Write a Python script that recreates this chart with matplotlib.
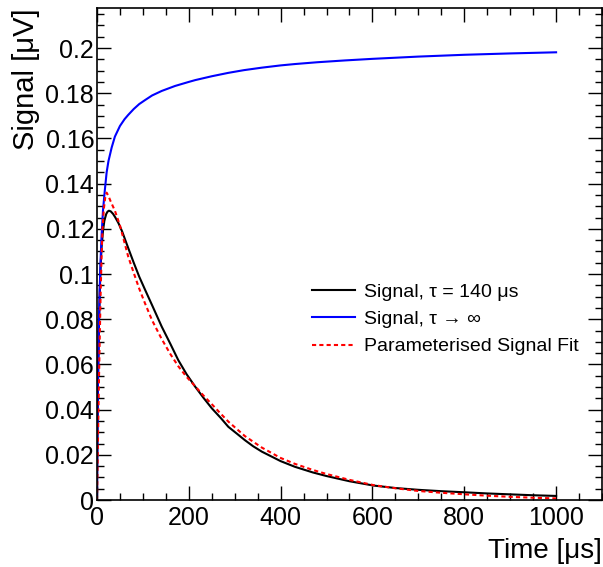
import matplotlib
matplotlib.use("Agg")
import matplotlib.pyplot as plt
from matplotlib.ticker import MultipleLocator, FuncFormatter

plt.rcParams['font.family'] = ['Liberation Sans', 'DejaVu Sans']

# values
t_black = [0, 1, 2, 4, 6, 8, 10, 13, 16, 20, 23, 26, 30, 35, 40, 47, 55, 62, 68, 80, 92,
           105, 120, 141, 160, 177, 195, 214, 232, 250, 270, 286, 305, 322, 340, 359,
           400, 431, 470, 500, 550, 602, 650, 700, 750, 802, 850, 900, 950, 1000]
v_black = [0.0, 0.03, 0.05, 0.075, 0.092, 0.104, 0.112, 0.119, 0.1235, 0.1265, 0.1276,
           0.128, 0.1277, 0.1266, 0.1250, 0.1224, 0.1187, 0.1148, 0.1115, 0.1050,
           0.0988, 0.0929, 0.0862, 0.0767, 0.0690, 0.0619, 0.0557, 0.0501, 0.0452,
           0.0406, 0.0362, 0.0324, 0.0293, 0.0265, 0.0238, 0.0214, 0.0172, 0.0147,
           0.0122, 0.0106, 0.0083, 0.0064, 0.0053, 0.0045, 0.0039, 0.0034, 0.0029,
           0.0025, 0.0021, 0.0018]

t_blue = [0, 1, 2, 4, 6, 8, 10, 13, 17, 21, 25, 32, 39, 50, 60, 68, 80, 92, 105, 120,
          141, 170, 200, 214, 250, 286, 320, 359, 400, 431, 480, 540, 600, 700, 800,
          900, 1000]
v_blue = [0.0, 0.03, 0.05, 0.076, 0.094, 0.107, 0.117, 0.128, 0.137, 0.145, 0.150,
          0.156, 0.1608, 0.1655, 0.1685, 0.1704, 0.1730, 0.1752, 0.1770, 0.1790,
          0.1810, 0.1832, 0.1850, 0.1858, 0.1875, 0.1890, 0.1902, 0.1913, 0.1923,
          0.1929, 0.1937, 0.1945, 0.1952, 0.1962, 0.1970, 0.1976, 0.1981]

t_fit = [0, 2, 4, 6, 8, 10, 12, 15, 18, 21, 25, 30, 39, 50, 68, 80, 92, 105, 120, 141,
         160, 177, 195, 214, 232, 250, 268, 286, 322, 359, 400, 431, 470, 500, 550,
         602, 650, 700, 750, 802, 850, 900, 950, 1000]
v_fit = [0.0, 0.025, 0.05, 0.072, 0.092, 0.108, 0.120, 0.129, 0.134, 0.136, 0.1345,
         0.132, 0.128, 0.1215, 0.1077, 0.1005, 0.0935, 0.0868, 0.0795, 0.0712, 0.0645,
         0.0592, 0.0545, 0.0503, 0.0462, 0.0424, 0.0385, 0.0347, 0.0283, 0.0232,
         0.0186, 0.0160, 0.0133, 0.0115, 0.0089, 0.0066, 0.0052, 0.0040, 0.0032,
         0.0025, 0.0019, 0.0014, 0.0010, 0.0007]

fig = plt.figure(figsize=(6.03, 5.67), dpi=100)
ax = fig.add_axes([97 / 603, 1 - 500 / 567, 505 / 603, 492 / 567])

ax.plot(t_black, v_black, color='black', lw=1.5, label=u'Signal, \u03c4 = 140 \u03bcs')
ax.plot(t_blue, v_blue, color='#0000ff', lw=1.5, label=u'Signal, \u03c4 \u2192 \u221e')
ax.plot(t_fit, v_fit, color='#ff0000', lw=1.5, ls=(0, (2, 1.5)), label='Parameterised Signal Fit')

ax.set_xlim(0, 1100)
ax.set_ylim(0, 0.2177)

ax.xaxis.set_major_locator(MultipleLocator(200))
ax.xaxis.set_minor_locator(MultipleLocator(50))
ax.yaxis.set_major_locator(MultipleLocator(0.02))
ax.yaxis.set_minor_locator(MultipleLocator(0.005))
ax.yaxis.set_major_formatter(FuncFormatter(lambda v, p: '%g' % round(v, 4)))

ax.tick_params(which='both', direction='in', top=True, right=True, labelsize=18, width=1)
ax.tick_params(which='major', length=10)
ax.tick_params(which='minor', length=5)
ax.tick_params(axis='x', pad=4)
ax.tick_params(axis='y', pad=2)
for s in ax.spines.values():
    s.set_linewidth(1.2)

ax.set_xlabel(u'Time [\u03bcs]', fontsize=20, loc='right', labelpad=6)
ax.set_ylabel(u'Signal [\u03bcV]', fontsize=21, loc='top')
ax.yaxis.set_label_coords(-0.113, 1.0)

ax.legend(loc='upper left', bbox_to_anchor=(0.4257, 0.441), frameon=False, fontsize=14,
          handlelength=2.2, handletextpad=0.5, labelspacing=0.5, borderpad=0,
          borderaxespad=0)

fig.savefig('out.png', dpi=100)
